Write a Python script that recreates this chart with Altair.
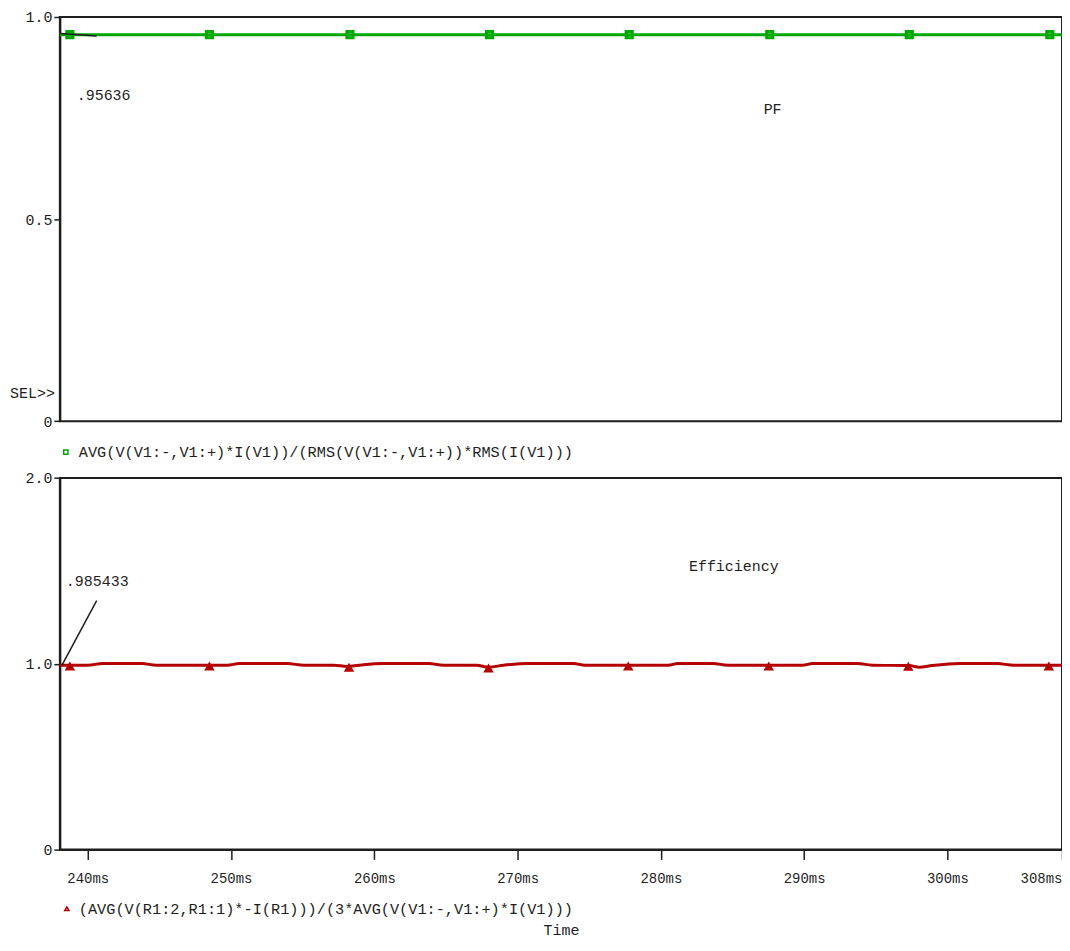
import altair as alt
import pandas as pd

FONT = "Liberation Mono"
INK = "#1e1e1e"
GREEN = "#00a800"
RED = "#b40000"

# ---- data ----
T_MIN = 238.05
T_MAX = 308.0
x_ticks = [240, 250, 260, 270, 280, 290, 300, 308]
pf_ticks = [0, 0.5, 1.0]
eff_ticks = [0, 1.0, 2.0]

pf_line_t = [238.05, 248.49, 258.30, 268.04, 277.79, 287.60, 297.34, 308.0]
pf_line_v = [0.95636, 0.95636, 0.95636, 0.95636, 0.95636, 0.95636, 0.95636, 0.95636]
pf_mark_t = [238.75, 248.49, 258.30, 268.04, 277.79, 287.60, 297.34, 307.15]
pf_mark_v = [0.95636, 0.95636, 0.95636, 0.95636, 0.95636, 0.95636, 0.95636, 0.95636]

eff_line_t = [238.05, 240.00, 241.04, 243.76, 244.80, 249.74, 250.58, 253.92, 255.10,
              257.19, 258.09, 258.93, 260.67, 263.80, 264.84, 267.14, 267.97, 269.02,
              270.76, 273.89, 274.72, 280.50, 281.20, 283.63, 284.67, 289.89, 290.59,
              293.72, 294.77, 297.34, 298.04, 298.94, 300.89, 303.46, 304.65, 308.0]
eff_line_v = [0.992, 0.992, 1.001, 1.001, 0.992, 0.992, 1.001, 1.001, 0.992,
              0.992, 0.985, 0.992, 1.001, 1.001, 0.992, 0.992, 0.981, 0.992,
              1.001, 1.001, 0.992, 0.992, 1.001, 1.001, 0.992, 0.992, 1.001,
              1.001, 0.992, 0.990, 0.981, 0.990, 1.001, 1.001, 0.992, 0.992]
eff_mark_t = [238.75, 248.49, 258.23, 267.97, 277.72, 287.53, 297.27, 307.08]
eff_mark_v = [0.988, 0.988, 0.981, 0.977, 0.988, 0.988, 0.986, 0.988]

pf_label = [".95636"]
pf_label_t = [239.23]
pf_label_v = [0.807]
pf_ptr_t = [238.10]
pf_ptr_t2 = [240.62]
pf_ptr_v = [0.959]
pf_ptr_v2 = [0.953]
pf_name = ["PF"]
pf_name_t = [287.8]
pf_name_v = [0.772]

eff_label = [".985433"]
eff_label_t = [238.47]
eff_label_v = [1.447]
eff_ptr_t = [238.19]
eff_ptr_t2 = [240.62]
eff_ptr_v = [0.9906]
eff_ptr_v2 = [1.3396]
eff_name = ["Efficiency"]
eff_name_t = [285.09]
eff_name_v = [1.5275]

trace1 = ["AVG(V(V1:-,V1:+)*I(V1))/(RMS(V(V1:-,V1:+))*RMS(I(V1)))"]
trace2 = ["(AVG(V(R1:2,R1:1)*-I(R1)))/(3*AVG(V(V1:-,V1:+)*I(V1)))"]
sel_text = ["SEL>>"]
x_title = ["Time"]

# ---- layout constants (pixels) ----
W = 1005
H = 834.8
TOP_RANGE = [405.3, 0]
BOT_RANGE = [834.8, 462.3]

xscale = alt.Scale(domain=[T_MIN, T_MAX], nice=False, zero=False)
xaxis = alt.Axis(values=x_ticks, labelExpr="datum.value + 'ms'", title=None,
                 tickSize=10, labelPadding=12, labelFontSize=14, grid=False)
X = alt.X("t:Q", scale=xscale, axis=xaxis)
X2 = alt.X2("t2")

ytop = alt.Y("v:Q", scale=alt.Scale(domain=[0, 1], range=TOP_RANGE, nice=False, zero=False),
             axis=alt.Axis(values=pf_ticks, orient="left", title=None, tickSize=6, labelPadding=2,
                           labelExpr="datum.value == 0 ? '0' : format(datum.value, '.1f')"))
ybot = alt.Y("v:Q", scale=alt.Scale(domain=[0, 2], range=BOT_RANGE, nice=False, zero=False),
             axis=alt.Axis(values=eff_ticks, orient="left", title=None, tickSize=6, labelPadding=2,
                           labelExpr="datum.value == 0 ? '0' : format(datum.value, '.1f')"))
Y2 = alt.Y2("v2")

# ---- top panel ----
top_frame = alt.Chart(pd.DataFrame({"t": [T_MIN], "t2": [T_MAX], "v": [0], "v2": [1]})).mark_rect(
    fillOpacity=0, stroke=INK, strokeWidth=2).encode(x=X, x2=X2, y=ytop, y2=Y2)
top_line = alt.Chart(pd.DataFrame({"t": pf_line_t, "v": pf_line_v})).mark_line(
    color=GREEN, strokeWidth=3).encode(x=X, y=ytop)
top_pts = alt.Chart(pd.DataFrame({"t": pf_mark_t, "v": pf_mark_v})).mark_point(
    shape="square", filled=False, color=GREEN, strokeWidth=3, size=38, opacity=1).encode(x=X, y=ytop)
top_ptr = alt.Chart(pd.DataFrame({"t": pf_ptr_t, "t2": pf_ptr_t2, "v": pf_ptr_v, "v2": pf_ptr_v2})).mark_rule(
    color=INK, strokeWidth=1.5).encode(x=X, x2=X2, y=ytop, y2=Y2)
top_lab = alt.Chart(pd.DataFrame({"t": pf_label_t, "v": pf_label_v, "label": pf_label})).mark_text(
    align="left", baseline="middle", fontSize=15, color=INK).encode(x=X, y=ytop, text="label:N")
top_name = alt.Chart(pd.DataFrame({"t": pf_name_t, "v": pf_name_v, "label": pf_name})).mark_text(
    align="center", baseline="middle", fontSize=15, color=INK).encode(x=X, y=ytop, text="label:N")
top = alt.layer(top_frame, top_line, top_pts, top_ptr, top_lab, top_name)

# ---- bottom panel ----
bot_frame = alt.Chart(pd.DataFrame({"t": [T_MIN], "t2": [T_MAX], "v": [0], "v2": [2]})).mark_rect(
    fillOpacity=0, stroke=INK, strokeWidth=2).encode(x=X, x2=X2, y=ybot, y2=Y2)
bot_line = alt.Chart(pd.DataFrame({"t": eff_line_t, "v": eff_line_v})).mark_line(
    color=RED, strokeWidth=3, interpolate="monotone").encode(x=X, y=ybot)
bot_pts = alt.Chart(pd.DataFrame({"t": eff_mark_t, "v": eff_mark_v})).mark_point(
    shape="triangle-up", filled=True, color=RED, size=110, opacity=1).encode(x=X, y=ybot)
bot_ptr = alt.Chart(pd.DataFrame({"t": eff_ptr_t, "t2": eff_ptr_t2, "v": eff_ptr_v, "v2": eff_ptr_v2})).mark_rule(
    color=INK, strokeWidth=1.5).encode(x=X, x2=X2, y=ybot, y2=Y2)
bot_lab = alt.Chart(pd.DataFrame({"t": eff_label_t, "v": eff_label_v, "label": eff_label})).mark_text(
    align="left", baseline="middle", fontSize=15, color=INK).encode(x=X, y=ybot, text="label:N")
bot_name = alt.Chart(pd.DataFrame({"t": eff_name_t, "v": eff_name_v, "label": eff_name})).mark_text(
    align="center", baseline="middle", fontSize=15, color=INK).encode(x=X, y=ybot, text="label:N")
bot = alt.layer(bot_frame, bot_line, bot_pts, bot_ptr, bot_lab, bot_name)

# ---- legends / misc text (placed in pixels around the plot) ----
leg1_mark = alt.Chart(pd.DataFrame({"label": trace1})).mark_point(
    shape="square", filled=False, color=GREEN, strokeWidth=1.5, size=18, opacity=1).encode(
    x=alt.value(6), y=alt.value(436.3))
leg1_text = alt.Chart(pd.DataFrame({"label": trace1})).mark_text(
    align="left", baseline="middle", fontSize=15.3, color=INK).encode(
    x=alt.value(19), y=alt.value(436.3), text="label:N")
leg2_mark = alt.Chart(pd.DataFrame({"label": trace2})).mark_point(
    shape="triangle-up", filled=False, color=RED, strokeWidth=1.5, size=18, opacity=1).encode(
    x=alt.value(7), y=alt.value(894.3))
leg2_text = alt.Chart(pd.DataFrame({"label": trace2})).mark_text(
    align="left", baseline="middle", fontSize=15.3, color=INK).encode(
    x=alt.value(19), y=alt.value(894.3), text="label:N")
sel = alt.Chart(pd.DataFrame({"label": sel_text})).mark_text(
    align="right", baseline="middle", fontSize=15, color=INK).encode(
    x=alt.value(-5), y=alt.value(377.3), text="label:N")
xt = alt.Chart(pd.DataFrame({"label": x_title})).mark_text(
    align="center", baseline="alphabetic", fontSize=15, color=INK).encode(
    x=alt.value(503), y=alt.value(920.5), text="label:N")

chart = alt.layer(top, bot, leg1_mark, leg1_text, leg2_mark, leg2_text, sel, xt).resolve_scale(
    y="independent").resolve_axis(y="independent").properties(
    width=W, height=H,
    padding={"left": 52, "top": 7.7, "right": 0, "bottom": 88},
    autosize=alt.AutoSizeParams(type="none"),
    background="white",
).configure_view(stroke=None).configure_axis(
    labelFont=FONT, labelFontSize=15, labelColor=INK, domainColor=INK, domainWidth=2,
    tickColor=INK, tickWidth=1.5, grid=False
).configure_text(font=FONT)

chart.save("out.html", embed_options={"renderer": "svg", "actions": False})
